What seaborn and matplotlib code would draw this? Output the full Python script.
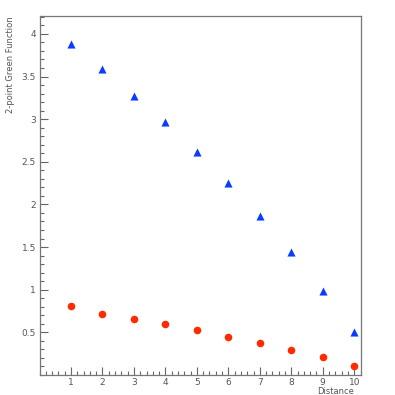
import matplotlib
matplotlib.use("Agg")
import matplotlib.pyplot as plt
from matplotlib.ticker import MultipleLocator, FixedLocator
import seaborn as sns

# ---------------- data ----------------
distance = [1, 2, 3, 4, 5, 6, 7, 8, 9, 10]
green_upper = [3.88, 3.59, 3.27, 2.97, 2.61, 2.25, 1.87, 1.44, 0.99, 0.50]
green_lower = [0.806, 0.72, 0.657, 0.595, 0.528, 0.45, 0.376, 0.29, 0.208, 0.106]
x_ticks = [1, 2, 3, 4, 5, 6, 7, 8, 9, 10]
y_ticks = [0.5, 1, 1.5, 2, 2.5, 3, 3.5, 4]
y_tick_labels = ["0.5", "1", "1.5", "2", "2.5", "3", "3.5", "4"]

sns.set_style("white")
plt.rcParams['font.family'] = ['DejaVu Sans']

fig = plt.figure(figsize=(3.95, 3.95), dpi=100)
ax = fig.add_axes([0.1, 0.0506, 0.8127, 0.909])

sns.scatterplot(x=distance, y=green_upper, marker='^', color='#0a3cff',
                s=34, linewidth=0, ax=ax)
sns.scatterplot(x=distance, y=green_lower, marker='o', color='#ff2a00',
                s=30, linewidth=0, ax=ax)

ax.set_xlim(0, 10.2)
ax.set_ylim(0, 4.21)

ax.xaxis.set_major_locator(FixedLocator(x_ticks))
ax.xaxis.set_minor_locator(MultipleLocator(0.2))
ax.yaxis.set_major_locator(FixedLocator(y_ticks))
ax.yaxis.set_minor_locator(MultipleLocator(0.1))
ax.set_xticklabels([str(v) for v in x_ticks])
ax.set_yticklabels(y_tick_labels)

tick_col = '#555555'
ax.tick_params(which='both', direction='in', color='#666666', width=0.8,
               labelsize=6.5, labelcolor=tick_col, top=False, right=False,
               left=True, bottom=True)
ax.tick_params(which='major', length=6, pad=2.5)
ax.tick_params(which='minor', length=3)

for sp in ax.spines.values():
    sp.set_color('#777777')
    sp.set_linewidth(0.9)

fig.text(0.026, 0.958, "2-point Green Function", rotation=90, ha='center', va='top',
         fontsize=6, color=tick_col)
fig.text(0.897, 0.021, "Distance", ha='right', va='top', fontsize=6, color=tick_col)

fig.savefig("out.png", dpi=100)
